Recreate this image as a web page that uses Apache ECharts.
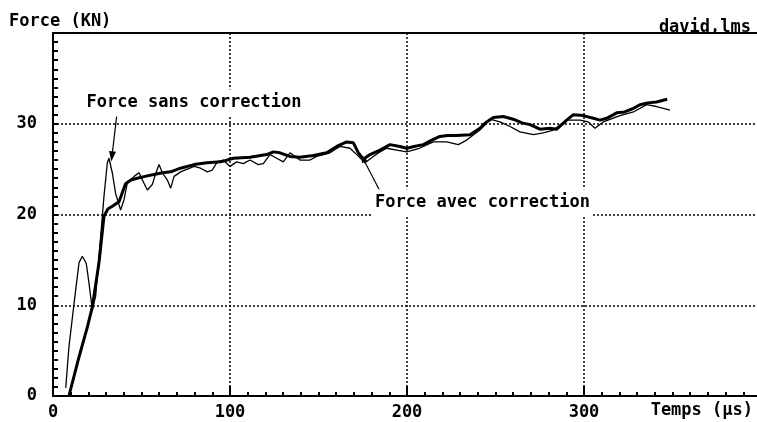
<!DOCTYPE html>
<html>
<head>
<meta charset="utf-8">
<script src="https://cdn.jsdelivr.net/npm/echarts@6/dist/echarts.min.js"></script>
<style>
  html, body { margin: 0; padding: 0; background: #fff; }
  #chart { width: 757px; height: 422px; }
</style>
</head>
<body>
<div id="chart"></div>
<script>
// Force avec correction (thick line)
var timeCorr = [9, 14, 19.4, 22.2, 26, 28.8, 31, 33.5, 37.3, 41, 44, 47.6, 52, 57, 62, 66.5, 72, 79.7, 87, 94.7,
  101.9, 111.3, 120.7, 124.5, 128.2, 133.9, 139.5, 147.1, 154.6, 160.3, 165.9, 169.7, 172.5, 175.3, 179.1, 184.7,
  190.4, 196, 199.8, 204, 209.2, 214, 218.6, 223, 228, 235.6, 241.2, 245, 248.8, 254.4, 260, 265, 269.5, 275.1,
  280.8, 284.6, 290.2, 294, 299.6, 305.3, 309, 312.8, 318.5, 323, 327.9, 331.6, 336, 341, 347]
var forceCorr = [0, 3.8, 7.6, 9.8, 14.7, 19.8, 20.6, 20.9, 21.4, 23.4, 23.8, 24, 24.2, 24.4, 24.6, 24.7, 25.1, 25.5, 25.7, 25.8,
  26.2, 26.3, 26.6, 26.9, 26.8, 26.4, 26.3, 26.5, 26.8, 27.5, 28.0, 27.9, 26.8, 26.1, 26.6, 27.1,
  27.7, 27.5, 27.3, 27.5, 27.7, 28.2, 28.6, 28.7, 28.7, 28.8, 29.5, 30.2, 30.7, 30.8, 30.5, 30.1, 29.9, 29.4,
  29.5, 29.4, 30.4, 31.0, 30.9, 30.6, 30.4, 30.6, 31.2, 31.3, 31.7, 32.1, 32.3, 32.4, 32.7]

// Force sans correction (thin line)
var timeRaw = [7.2, 9, 11.9, 14.7, 16.6, 18.8, 20.3, 22.2, 24.1, 26, 28.8, 30.7, 31.6, 33.5, 35.4, 38.2, 40.1, 41.9,
  45.8, 48.6, 50.5, 53.3, 56.1, 58, 59.9, 61.8, 64.6, 66.5, 68.4, 72.1, 79.7, 83.4, 87.2, 90, 92.8, 96.2, 100,
  103.8, 107.5, 111.3, 116, 118.8, 122.6, 126.4, 130.1, 133.9, 139.5, 145.2, 149, 156.5, 162.1, 167.8, 171.6,
  176.3, 181, 184.7, 188.5, 194.2, 199.8, 207, 214.9, 222.4, 229, 233.7, 241.2, 246.9, 252.5, 258.2, 263.8,
  271.4, 277, 282.7, 290.2, 297.7, 302.4, 306.2, 310.9, 320.3, 327.9, 335.4, 341, 348.6]
var forceRaw = [0.9, 5.4, 10.2, 14.7, 15.4, 14.6, 12.5, 9.5, 11, 15.4, 22, 25.7, 26.2, 24.6, 22.3, 20.5, 21.6, 23.4,
  24.2, 24.6, 23.8, 22.7, 23.3, 24.5, 25.5, 24.6, 23.8, 22.9, 24.2, 24.7, 25.3, 25.1, 24.7, 24.9, 25.8, 26.0, 25.3,
  25.8, 25.6, 26.0, 25.5, 25.6, 26.6, 26.2, 25.8, 26.8, 26.0, 26.0, 26.4, 26.8, 27.5, 27.3, 26.6,
  25.7, 26.4, 26.9, 27.3, 27.1, 26.9, 27.3, 28.0, 28.0, 27.7, 28.2, 29.3, 30.5, 30.2, 29.7, 29.1,
  28.8, 29.0, 29.3, 30.4, 30.4, 30.2, 29.5, 30.2, 30.9, 31.3, 32.1, 31.9, 31.5]

// annotation anchors (data coords)
var sansLabelAt = [79.7, 32.3]
var sansArrow = [[36.2, 31.2], [33.3, 26.4]]
var avecLabelAt = [242.7, 21.3]
var avecArrow = [[184.7, 22.6], [175.1, 26.2]]

var font = 'DejaVu Sans Mono'

function pairs(xs, ys) {
  return xs.map(function (x, i) { return [x, ys[i]] })
}

function labelPoint(coord, text) {
  return {
    coord: coord,
    symbolSize: 0,
    label: {
      show: true,
      position: 'inside',
      formatter: text,
      fontFamily: font,
      fontWeight: 'bold',
      fontSize: 17,
      color: '#000',
      backgroundColor: '#fff',
      padding: [5, 3, 5, 3]
    }
  }
}

var chart = echarts.init(document.getElementById('chart'))

chart.setOption({
  animation: false,
  backgroundColor: '#fff',
  title: [
    {
      text: 'Force (KN)',
      left: 4,
      top: 8,
      textStyle: { fontFamily: font, fontWeight: 'bold', fontSize: 17, color: '#000' }
    },
    {
      text: 'david,lms',
      right: 1,
      top: 14,
      textStyle: { fontFamily: font, fontWeight: 'bold', fontSize: 17, color: '#000' }
    }
  ],
  grid: {
    left: 53,
    width: 708,
    top: 33,
    bottom: 26,
    outerBoundsMode: 'none'
  },
  xAxis: [
    {
      type: 'value',
      min: 0,
      max: 400,
      interval: 100,
      name: 'Temps (µs)',
      nameLocation: 'end',
      nameGap: -8,
      nameTextStyle: {
        fontFamily: font, fontWeight: 'bold', fontSize: 17, color: '#000',
        align: 'right', verticalAlign: 'top', padding: [6, 0, 0, 0]
      },
      axisLine: { lineStyle: { color: '#000', width: 2 } },
      axisTick: { inside: true, length: 10, lineStyle: { color: '#000', width: 2 } },
      minorTick: { show: true, splitNumber: 10, length: 4, lineStyle: { color: '#000', width: 2 } },
      axisLabel: {
        margin: 8,
        fontFamily: font, fontWeight: 'bold', fontSize: 17, color: '#000',
        formatter: function (v) { return v === 400 ? '' : v }
      },
      splitLine: { show: true, lineStyle: { color: '#000', width: 1.5, type: [2, 2] } }
    },
    {
      // top frame line only
      type: 'value',
      position: 'top',
      min: 0,
      max: 400,
      axisLine: { show: true, lineStyle: { color: '#000', width: 2 } },
      axisTick: { show: false },
      axisLabel: { show: false },
      splitLine: { show: false }
    }
  ],
  yAxis: {
    type: 'value',
    min: 0,
    max: 40,
    interval: 10,
    axisLine: { show: true, lineStyle: { color: '#000', width: 2 } },
    axisTick: { show: true, inside: true, length: 5, lineStyle: { color: '#000', width: 2 } },
    minorTick: { show: true, splitNumber: 10, length: 5, lineStyle: { color: '#000', width: 2 } },
    axisLabel: {
      margin: 16,
      fontFamily: font, fontWeight: 'bold', fontSize: 17, color: '#000',
      formatter: function (v) { return v === 40 ? '' : v }
    },
    splitLine: { show: true, lineStyle: { color: '#000', width: 1.5, type: [2, 2] } }
  },
  series: [
    {
      name: 'Force sans correction',
      type: 'line',
      data: pairs(timeRaw, forceRaw),
      showSymbol: false,
      lineStyle: { color: '#000', width: 1.3 },
      z: 3,
      markPoint: { data: [labelPoint(sansLabelAt, 'Force sans correction')] },
      markLine: {
        silent: true,
        symbol: ['none', 'triangle'],
        symbolSize: [7, 10],
        label: { show: false },
        lineStyle: { color: '#000', width: 1.2, type: 'solid' },
        data: [[{ coord: sansArrow[0] }, { coord: sansArrow[1] }]]
      }
    },
    {
      name: 'Force avec correction',
      type: 'line',
      data: pairs(timeCorr, forceCorr),
      showSymbol: false,
      lineStyle: { color: '#000', width: 3 },
      z: 4,
      markPoint: { data: [labelPoint(avecLabelAt, 'Force avec correction')] },
      markLine: {
        silent: true,
        symbol: ['none', 'triangle'],
        symbolSize: [6, 8],
        label: { show: false },
        lineStyle: { color: '#000', width: 1.2, type: 'solid' },
        data: [[{ coord: avecArrow[0] }, { coord: avecArrow[1] }]]
      }
    }
  ]
})
</script>
</body>
</html>
